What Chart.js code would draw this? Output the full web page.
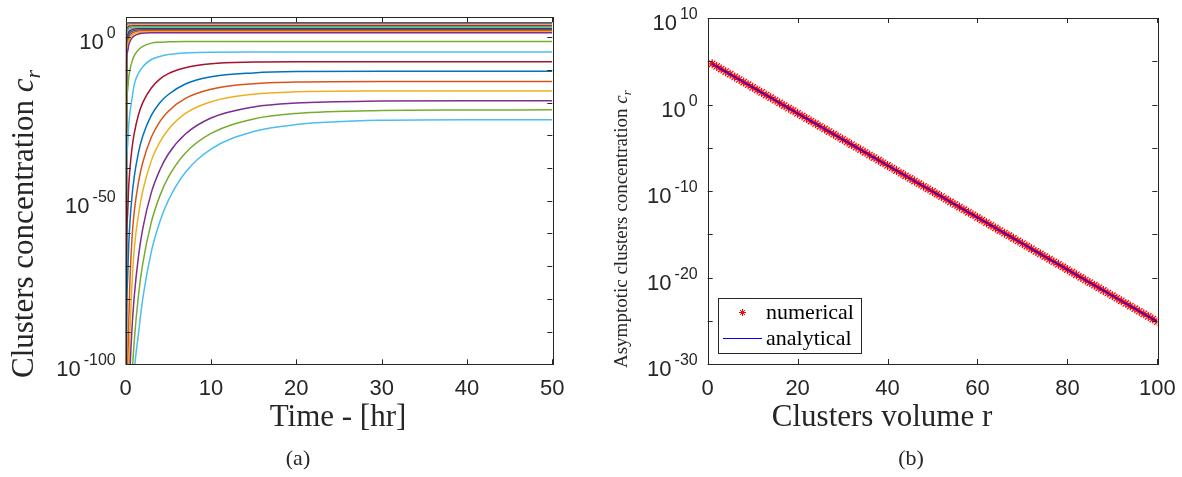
<!DOCTYPE html>
<html>
<head>
<meta charset="utf-8">
<script src="https://cdn.jsdelivr.net/npm/chart.js@4.4.0/dist/chart.umd.min.js"></script>
<style>
    html, body { margin: 0; padding: 0; background: #fff; }
    #wrap { position: relative; width: 1182px; height: 477px; overflow: hidden; }
    .panel { position: absolute; top: 0; width: 591px; height: 477px; }
</style>
</head>
<body>
<div id="wrap">
    <div class="panel" style="left:0"><canvas id="chartA" width="591" height="477"></canvas></div>
    <div class="panel" style="left:591px"><canvas id="chartB" width="591" height="477"></canvas></div>
</div>
<script>
// ---- panel (a): log10 of cluster concentration vs time ----
const timeHours = [0, 0.1, 0.2, 0.35, 0.5, 0.75, 1, 1.5, 2, 3, 4, 5, 7, 10, 15, 20, 30, 40, 50];

const concR1   = [-250, 4.34, 4.39, 4.4, 4.4, 4.4, 4.4, 4.4, 4.4, 4.4, 4.4, 4.4, 4.4, 4.4, 4.4, 4.4, 4.4, 4.4, 4.4];
const concR2   = [-250, 3.81, 4.03, 4.09, 4.1, 4.1, 4.1, 4.1, 4.1, 4.1, 4.1, 4.1, 4.1, 4.1, 4.1, 4.1, 4.1, 4.1, 4.1];
const concR3   = [-250, 3.06, 3.53, 3.73, 3.78, 3.8, 3.8, 3.8, 3.8, 3.8, 3.8, 3.8, 3.8, 3.8, 3.8, 3.8, 3.8, 3.8, 3.8];
const concR4   = [-250, 2.17, 2.91, 3.29, 3.42, 3.48, 3.5, 3.5, 3.5, 3.5, 3.5, 3.5, 3.5, 3.5, 3.5, 3.5, 3.5, 3.5, 3.5];
const concR5   = [-250, 1.17, 2.2, 2.79, 3.02, 3.15, 3.19, 3.2, 3.2, 3.2, 3.2, 3.2, 3.2, 3.2, 3.2, 3.2, 3.2, 3.2, 3.2];
const concR6   = [-250, 0.01, 1.35, 2.16, 2.52, 2.77, 2.85, 2.89, 2.9, 2.9, 2.9, 2.9, 2.9, 2.9, 2.9, 2.9, 2.9, 2.9, 2.9];
const concR7   = [-250, -1.23, 0.41, 1.47, 1.96, 2.34, 2.49, 2.58, 2.6, 2.6, 2.6, 2.6, 2.6, 2.6, 2.6, 2.6, 2.6, 2.6, 2.6];
const concR8   = [-250, -2.62, -0.66, 0.65, 1.3, 1.84, 2.08, 2.25, 2.29, 2.3, 2.3, 2.3, 2.3, 2.3, 2.3, 2.3, 2.3, 2.3, 2.3];
const concR9   = [-250, -4.07, -1.79, -0.23, 0.58, 1.28, 1.62, 1.89, 1.97, 2.0, 2.0, 2.0, 2.0, 2.0, 2.0, 2.0, 2.0, 2.0, 2.0];
const concR10  = [-250, -5.72, -3.12, -1.28, -0.29, 0.6, 1.07, 1.48, 1.62, 1.69, 1.7, 1.7, 1.7, 1.7, 1.7, 1.7, 1.7, 1.7, 1.7];
const concR11  = [-250, -7.55, -4.6, -2.5, -1.3, -0.2, 0.4, 1.0, 1.23, 1.37, 1.4, 1.4, 1.4, 1.4, 1.4, 1.4, 1.4, 1.4, 1.4];
const concR20  = [-250, -22.3, -16.7, -12.4, -9.9, -7.3, -5.6, -3.8, -2.8, -1.8, -1.5, -1.4, -1.3, -1.3, -1.3, -1.3, -1.3, -1.3, -1.3];
const concR30  = [-250, -42.5, -33.8, -27.1, -23.0, -18.5, -14.5, -11.0, -9.0, -6.8, -5.9, -5.3, -4.8, -4.55, -4.5, -4.5, -4.5, -4.5, -4.5];
const concR40  = [-250, -66.9, -55.1, -45.8, -40.1, -33.7, -29.4, -23.7, -20.0, -15.5, -12.8, -11.1, -9.3, -8.1, -7.6, -7.5, -7.5, -7.5, -7.5];
const concR50  = [-250, -90.2, -75.5, -63.7, -56.4, -48.3, -42.7, -35.2, -30.2, -23.9, -20.0, -17.5, -14.3, -12.1, -10.9, -10.5, -10.4, -10.4, -10.4];
const concR60  = [-250, -125, -106, -88, -74, -61, -53.4, -44.3, -38.3, -30.6, -25.8, -22.6, -18.7, -15.9, -14.2, -13.7, -13.5, -13.5, -13.5];
const concR70  = [-250, -140, -120, -104, -90, -75, -64.8, -54.2, -47.0, -37.8, -32.1, -28.2, -23.3, -19.7, -17.4, -16.7, -16.45, -16.4, -16.4];
const concR80  = [-250, -156.4, -132.6, -113.7, -101.8, -88.5, -79.3, -66.9, -58.5, -47.5, -40.6, -35.7, -29.6, -24.7, -21.3, -20.1, -19.5, -19.4, -19.4];
const concR90  = [-250, -180, -153, -131.8, -118.4, -103.4, -93, -78.8, -69.2, -56.6, -48.5, -42.8, -35.4, -29.4, -25.0, -23.3, -22.4, -22.25, -22.2];
const concR100 = [-250, -203, -173, -150, -135, -118, -103, -90.6, -79.9, -65.6, -56.4, -49.9, -41.3, -34.2, -28.8, -26.7, -25.4, -25.2, -25.2];

const curvesA = [concR1, concR2, concR3, concR4, concR5, concR6, concR7, concR8, concR9, concR10, concR11,
                 concR20, concR30, concR40, concR50, concR60, concR70, concR80, concR90, concR100];

const timeTicks = [0, 10, 20, 30, 40, 50];
const concTicks = [-100, -90, -80, -70, -60, -50, -40, -30, -20, -10, 0];
const concTickLabels = [0, -50, -100];

// ---- panel (b): log10 of asymptotic concentration vs cluster volume ----
const clusterVolume = [1, 2, 3, 4, 5, 6, 7, 8, 9, 10, 11, 12, 13, 14, 15, 16, 17, 18, 19, 20,
    21, 22, 23, 24, 25, 26, 27, 28, 29, 30, 31, 32, 33, 34, 35, 36, 37, 38, 39, 40,
    41, 42, 43, 44, 45, 46, 47, 48, 49, 50, 51, 52, 53, 54, 55, 56, 57, 58, 59, 60,
    61, 62, 63, 64, 65, 66, 67, 68, 69, 70, 71, 72, 73, 74, 75, 76, 77, 78, 79, 80,
    81, 82, 83, 84, 85, 86, 87, 88, 89, 90, 91, 92, 93, 94, 95, 96, 97, 98, 99, 100];
const asymptoticLog = [4.70, 4.40, 4.10, 3.80, 3.50, 3.19, 2.89, 2.59, 2.29, 1.99,
    1.69, 1.39, 1.09, 0.79, 0.49, 0.18, -0.12, -0.42, -0.72, -1.02,
    -1.32, -1.62, -1.92, -2.22, -2.52, -2.83, -3.13, -3.43, -3.73, -4.03,
    -4.33, -4.63, -4.93, -5.23, -5.53, -5.84, -6.14, -6.44, -6.74, -7.04,
    -7.34, -7.64, -7.94, -8.24, -8.55, -8.85, -9.15, -9.45, -9.75, -10.05,
    -10.35, -10.65, -10.95, -11.26, -11.56, -11.86, -12.16, -12.46, -12.76, -13.06,
    -13.36, -13.66, -13.97, -14.27, -14.57, -14.87, -15.17, -15.47, -15.77, -16.07,
    -16.37, -16.68, -16.98, -17.28, -17.58, -17.88, -18.18, -18.48, -18.78, -19.08,
    -19.39, -19.69, -19.99, -20.29, -20.59, -20.89, -21.19, -21.49, -21.79, -22.10,
    -22.40, -22.70, -23.00, -23.30, -23.60, -23.90, -24.20, -24.50, -24.81, -25.11];

const volumeTicks = [0, 20, 40, 60, 80, 100];
const asymTicks = [-30, -25, -20, -15, -10, -5, 0, 5, 10];
const asymTickLabels = [-30, -20, -10, 0, 10];

// MATLAB default colour order
const lineColors = ['#0072BD', '#D95319', '#EDB120', '#7E2F8E', '#77AC30', '#4DBEEE', '#A2142F'];

const AXIS_COLOR = '#262626';
const SANS = '"Liberation Sans", Arial, sans-serif';
const SERIF = '"Liberation Serif", "Times New Roman", serif';
const TICK_LEN = 5;

function drawPow10(ctx, exponent, rightX, tickY) {
    const expText = String(exponent);
    ctx.textAlign = 'left';
    ctx.textBaseline = 'alphabetic';
    ctx.font = '16px ' + SANS;
    const we = ctx.measureText(expText).width;
    ctx.fillText(expText, rightX - we, tickY + 1);
    ctx.font = '22px ' + SANS;
    const wb = ctx.measureText('10').width;
    ctx.fillText('10', rightX - we - 3 - wb, tickY + 12);
}

function drawRotatedTitle(ctx, text, x, yStart, size) {
    ctx.save();
    ctx.translate(x, yStart);
    ctx.rotate(-Math.PI / 2);
    ctx.textAlign = 'left';
    ctx.textBaseline = 'alphabetic';
    ctx.font = size + 'px ' + SERIF;
    ctx.fillText(text, 0, 0);
    let w = ctx.measureText(text).width;
    ctx.font = 'italic ' + size + 'px ' + SERIF;
    ctx.fillText('c', w, 0);
    w += ctx.measureText('c').width;
    ctx.font = 'italic ' + Math.round(size * 0.7) + 'px ' + SERIF;
    ctx.fillText('r', w, size * 0.22);
    ctx.restore();
}

function drawStar(ctx, x, y, r) {
    const d = r * Math.SQRT1_2;
    ctx.moveTo(x - r, y); ctx.lineTo(x + r, y);
    ctx.moveTo(x, y - r); ctx.lineTo(x, y + r);
    ctx.moveTo(x - d, y - d); ctx.lineTo(x + d, y + d);
    ctx.moveTo(x - d, y + d); ctx.lineTo(x + d, y - d);
}

// draws a MATLAB style box axis with inward ticks, labels and titles
const matlabAxes = {
    id: 'matlabAxes',
    afterDatasetsDraw(chart, args, opts) {
        const ctx = chart.ctx;
        const area = chart.chartArea;
        const xs = chart.scales.x;
        const ys = chart.scales.y;
        ctx.save();
        ctx.strokeStyle = AXIS_COLOR;
        ctx.fillStyle = AXIS_COLOR;
        ctx.lineWidth = 1;

        ctx.beginPath();
        opts.xTicks.forEach(v => {
            const px = Math.round(xs.getPixelForValue(v)) + 0.5;
            ctx.moveTo(px, area.bottom); ctx.lineTo(px, area.bottom - TICK_LEN);
            ctx.moveTo(px, area.top); ctx.lineTo(px, area.top + TICK_LEN);
        });
        opts.yTicks.forEach(v => {
            const py = Math.round(ys.getPixelForValue(v)) + 0.5;
            ctx.moveTo(area.left, py); ctx.lineTo(area.left + TICK_LEN, py);
            ctx.moveTo(area.right, py); ctx.lineTo(area.right - TICK_LEN, py);
        });
        ctx.stroke();
        ctx.strokeRect(Math.round(area.left) + 0.5, Math.round(area.top) + 0.5,
            Math.round(area.width), Math.round(area.height));

        // x tick labels
        ctx.font = '22px ' + SANS;
        ctx.textAlign = 'center';
        ctx.textBaseline = 'alphabetic';
        opts.xTicks.forEach(v => {
            ctx.fillText(String(v), xs.getPixelForValue(v), area.bottom + 31);
        });
        // y tick labels as powers of ten
        opts.yLabels.forEach(v => drawPow10(ctx, v, area.left - 10, ys.getPixelForValue(v)));

        // axis titles and caption
        ctx.font = opts.xTitleSize + 'px ' + SERIF;
        ctx.textAlign = 'center';
        ctx.fillText(opts.xTitle, opts.xTitleX, 426);
        ctx.font = '22px ' + SERIF;
        ctx.fillText(opts.caption, opts.captionX, 465);
        drawRotatedTitle(ctx, opts.yTitle, opts.yTitleX, opts.yTitleStart, opts.yTitleSize);

        if (opts.legend) {
            const bx = Math.round(area.left + 10), by = Math.round(area.bottom - 66), bw = 143, bh = 55;
            ctx.fillStyle = '#fff';
            ctx.fillRect(bx, by, bw, bh);
            ctx.strokeStyle = AXIS_COLOR;
            ctx.strokeRect(bx + 0.5, by + 0.5, bw, bh);
            const dsNum = chart.data.datasets[0];
            const dsAna = chart.data.datasets[1];
            ctx.beginPath();
            ctx.strokeStyle = dsNum.borderColor;
            drawStar(ctx, bx + 24.5, by + 14.5, 3.5);
            ctx.stroke();
            ctx.beginPath();
            ctx.strokeStyle = dsAna.borderColor;
            ctx.moveTo(bx + 5, by + 40.5); ctx.lineTo(bx + 44, by + 40.5);
            ctx.stroke();
            ctx.fillStyle = '#000';
            ctx.font = '22px ' + SERIF;
            ctx.textAlign = 'left';
            ctx.fillText(dsNum.label, bx + 48, by + 21);
            ctx.fillText(dsAna.label, bx + 48, by + 47);
        }
        ctx.restore();
    }
};

const baseOptions = {
    responsive: false,
    animation: false,
    events: [],
    devicePixelRatio: 1,
    plugins: { legend: { display: false }, tooltip: { enabled: false } }
};

new Chart(document.getElementById('chartA'), {
    type: 'line',
    data: {
        datasets: curvesA.map((vals, i) => ({
            data: timeHours.map((t, j) => ({ x: t, y: vals[j] })),
            borderColor: lineColors[i % lineColors.length],
            borderWidth: 1.5,
            pointRadius: 0,
            fill: false,
            cubicInterpolationMode: 'monotone',
            clip: 0,
            order: curvesA.length - i
        }))
    },
    options: {
        ...baseOptions,
        layout: { padding: { left: 125.7, right: 38.7, top: 17.3, bottom: 112.7 } },
        scales: {
            x: { type: 'linear', min: 0, max: 50, display: false },
            y: { type: 'linear', min: -100, max: 6.1, display: false }
        },
        plugins: {
            ...baseOptions.plugins,
            matlabAxes: {
                xTicks: timeTicks, yTicks: concTicks, yLabels: concTickLabels,
                xTitle: 'Time - [hr]', xTitleX: 338, xTitleSize: 31,
                caption: '(a)', captionX: 298,
                yTitle: 'Clusters concentration ', yTitleX: 33, yTitleStart: 378, yTitleSize: 31
            }
        }
    },
    plugins: [matlabAxes]
});

new Chart(document.getElementById('chartB'), {
    type: 'line',
    data: {
        datasets: [
            {
                label: 'numerical',
                data: clusterVolume.map((r, i) => ({ x: r, y: asymptoticLog[i] })),
                showLine: false,
                pointStyle: 'star',
                pointRadius: 4.5,
                borderColor: '#ff0000',
                backgroundColor: '#ff0000',
                pointBorderWidth: 1.2,
                order: 2
            },
            {
                label: 'analytical',
                data: clusterVolume.map((r, i) => ({ x: r, y: asymptoticLog[i] })),
                borderColor: '#0000ff',
                borderWidth: 1.2,
                pointRadius: 0,
                fill: false,
                order: 1
            }
        ]
    },
    options: {
        ...baseOptions,
        layout: { padding: { left: 116.7, right: 24.7, top: 18, bottom: 113 } },
        scales: {
            x: { type: 'linear', min: 0, max: 100, display: false },
            y: { type: 'linear', min: -30, max: 10, display: false }
        },
        plugins: {
            ...baseOptions.plugins,
            matlabAxes: {
                xTicks: volumeTicks, yTicks: asymTicks, yLabels: asymTickLabels,
                xTitle: 'Clusters volume r', xTitleX: 291, xTitleSize: 31,
                caption: '(b)', captionX: 320,
                yTitle: 'Asymptotic clusters concentration ', yTitleX: 36, yTitleStart: 368, yTitleSize: 19,
                legend: true
            }
        }
    },
    plugins: [matlabAxes]
});
</script>
</body>
</html>
